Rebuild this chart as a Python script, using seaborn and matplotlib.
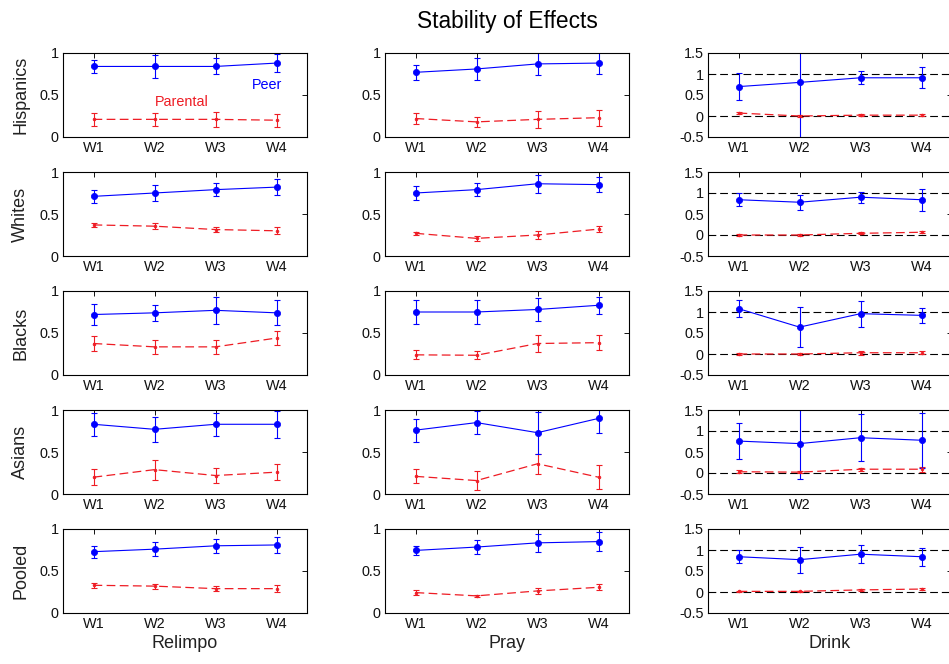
import numpy as np
import pandas as pd
import matplotlib
matplotlib.use("Agg")
import matplotlib.pyplot as plt
import seaborn as sns

# ---- data ----
groups = ["Hispanics", "Whites", "Blacks", "Asians", "Pooled"]
outcomes = ["Relimpo", "Pray", "Drink"]
waves = [1, 2, 3, 4]
wave_labels = ["W1", "W2", "W3", "W4"]

relimpo_peer = [
    [0.84, 0.84, 0.84, 0.88],
    [0.71, 0.75, 0.79, 0.82],
    [0.72, 0.74, 0.77, 0.74],
    [0.83, 0.77, 0.83, 0.83],
    [0.73, 0.76, 0.80, 0.81],
]
relimpo_peer_err = [
    [0.075, 0.14, 0.095, 0.11],
    [0.08, 0.09, 0.076, 0.095],
    [0.13, 0.093, 0.16, 0.147],
    [0.137, 0.15, 0.135, 0.16],
    [0.07, 0.08, 0.085, 0.095],
]
relimpo_parental = [
    [0.21, 0.21, 0.21, 0.20],
    [0.37, 0.355, 0.315, 0.30],
    [0.375, 0.335, 0.335, 0.44],
    [0.20, 0.29, 0.22, 0.26],
    [0.33, 0.32, 0.29, 0.29],
]
relimpo_parental_err = [
    [0.074, 0.074, 0.09, 0.075],
    [0.028, 0.035, 0.032, 0.04],
    [0.085, 0.087, 0.085, 0.08],
    [0.093, 0.12, 0.09, 0.097],
    [0.027, 0.03, 0.027, 0.04],
]

pray_peer = [
    [0.77, 0.81, 0.87, 0.88],
    [0.75, 0.79, 0.86, 0.85],
    [0.75, 0.75, 0.78, 0.83],
    [0.76, 0.85, 0.73, 0.90],
    [0.745, 0.785, 0.835, 0.85],
]
pray_peer_err = [
    [0.086, 0.134, 0.136, 0.13],
    [0.082, 0.076, 0.106, 0.09],
    [0.14, 0.14, 0.135, 0.10],
    [0.135, 0.133, 0.25, 0.17],
    [0.055, 0.08, 0.106, 0.11],
]
pray_parental = [
    [0.22, 0.18, 0.21, 0.23],
    [0.27, 0.21, 0.25, 0.32],
    [0.24, 0.235, 0.375, 0.385],
    [0.21, 0.16, 0.36, 0.20],
    [0.243, 0.204, 0.263, 0.306],
]
pray_parental_err = [
    [0.064, 0.064, 0.10, 0.096],
    [0.02, 0.034, 0.046, 0.04],
    [0.054, 0.05, 0.10, 0.09],
    [0.083, 0.11, 0.12, 0.14],
    [0.025, 0.014, 0.033, 0.037],
]

drink_peer = [
    [0.70, 0.80, 0.91, 0.91],
    [0.84, 0.78, 0.90, 0.84],
    [1.08, 0.64, 0.96, 0.92],
    [0.76, 0.70, 0.84, 0.78],
    [0.84, 0.77, 0.90, 0.84],
]
drink_peer_err = [
    [0.32, 1.6, 0.15, 0.25],
    [0.15, 0.18, 0.13, 0.26],
    [0.20, 0.47, 0.31, 0.17],
    [0.43, 0.85, 0.56, 0.65],
    [0.15, 0.31, 0.21, 0.21],
]
drink_parental = [
    [0.07, 0.0, 0.02, 0.02],
    [0.0, 0.0, 0.04, 0.065],
    [0.0, 0.0, 0.03, 0.03],
    [0.03, 0.02, 0.09, 0.09],
    [0.015, 0.015, 0.05, 0.07],
]
drink_parental_err = [
    [0.02, 0.015, 0.03, 0.03],
    [0.015, 0.015, 0.02, 0.02],
    [0.03, 0.015, 0.05, 0.04],
    [0.03, 0.03, 0.04, 0.06],
    [0.02, 0.02, 0.02, 0.02],
]

small_yticks = [0, 0.5, 1]
drink_yticks = [-0.5, 0, 0.5, 1, 1.5]
drink_ref_lines = [0, 1]


def build_frame() -> pd.DataFrame:
    """Long-form table: one row per group / outcome / source / wave."""
    tables = {
        ("Relimpo", "Peer"): (relimpo_peer, relimpo_peer_err),
        ("Relimpo", "Parental"): (relimpo_parental, relimpo_parental_err),
        ("Pray", "Peer"): (pray_peer, pray_peer_err),
        ("Pray", "Parental"): (pray_parental, pray_parental_err),
        ("Drink", "Peer"): (drink_peer, drink_peer_err),
        ("Drink", "Parental"): (drink_parental, drink_parental_err),
    }
    rows = []
    for (outcome, source), (vals, errs) in tables.items():
        for g, group in enumerate(groups):
            for w, wave in enumerate(waves):
                rows.append(
                    {
                        "Group": group,
                        "Outcome": outcome,
                        "Source": source,
                        "Wave": wave,
                        "Value": vals[g][w],
                        "Err": errs[g][w],
                    }
                )
    return pd.DataFrame(rows)


df = build_frame()

sns.set_style("white")
plt.rcParams["font.family"] = ["Liberation Sans", "DejaVu Sans"]
plt.rcParams["axes.linewidth"] = 0.8
plt.rcParams["text.color"] = "#111111"
plt.rcParams["axes.labelcolor"] = "#222222"

BLUE = "#0000ff"
RED = "#ee1c24"

fig = plt.figure(figsize=(9.49, 6.64), dpi=100)
W, H = 949, 664

col_left = [63, 385, 708]
col_width = 244
row_top = [53, 172, 291, 410, 529]
row_height = 84

styles = {
    "Peer": dict(color=BLUE, marker="o", markersize=4.5, linestyle="-", linewidth=0.8),
    "Parental": dict(color=RED, marker=".", markersize=4, linestyle=(0, (7, 3.5)),
                     linewidth=0.9),
}

for r, group in enumerate(groups):
    for c, outcome in enumerate(outcomes):
        ax = fig.add_axes([
            col_left[c] / W,
            1 - (row_top[r] + row_height) / H,
            col_width / W,
            row_height / H,
        ])

        if outcome == "Drink":
            for yref in drink_ref_lines:
                ax.axhline(yref, color="black", linestyle=(0, (7, 3.5)),
                           linewidth=0.8, zorder=1)

        for source in ["Parental", "Peer"]:
            sub = df[(df["Group"] == group) & (df["Outcome"] == outcome)
                     & (df["Source"] == source)]
            st = styles[source]
            sns.lineplot(
                data=sub, x="Wave", y="Value", ax=ax,
                color=st["color"], marker=st["marker"],
                markersize=st["markersize"], linestyle=st["linestyle"],
                linewidth=st["linewidth"], markeredgecolor=st["color"],
                markeredgewidth=0.5, errorbar=None, legend=False, zorder=3,
            )
            ax.errorbar(
                sub["Wave"], sub["Value"], yerr=sub["Err"], fmt="none",
                ecolor=st["color"], elinewidth=0.8, capsize=2.3,
                capthick=0.8, zorder=2,
            )

        ax.set_xlim(0.5, 4.5)
        ax.set_xticks(waves)
        ax.set_xticklabels(wave_labels)
        if outcome == "Drink":
            ax.set_ylim(-0.5, 1.5)
            ax.set_yticks(drink_yticks)
            ax.set_yticklabels([f"{v:g}" for v in drink_yticks])
        else:
            ax.set_ylim(0, 1)
            ax.set_yticks(small_yticks)
            ax.set_yticklabels([f"{v:g}" for v in small_yticks])

        ax.tick_params(direction="in", length=3.5, width=0.7, top=True,
                       right=True, labelsize=10.4, pad=3, colors="#111111")
        for spine in ax.spines.values():
            spine.set_visible(True)
            spine.set_color("black")
            spine.set_linewidth(0.8)

        ax.set_xlabel(outcome if r == len(groups) - 1 else "", fontsize=13,
                      labelpad=3)
        ax.set_ylabel(group if c == 0 else "", fontsize=13, labelpad=7)

        if r == 0 and c == 0:
            ax.text(3.85, 0.62, "Peer", color=BLUE, fontsize=10.4,
                    ha="center", va="center")
            ax.text(2.45, 0.42, "Parental", color=RED, fontsize=10.4,
                    ha="center", va="center")
        if r == 0 and c == 1:
            ax.set_title("Stability of Effects", fontsize=16.4, pad=18,
                         color="black")

fig.savefig("out.png", dpi=100, facecolor="white")
